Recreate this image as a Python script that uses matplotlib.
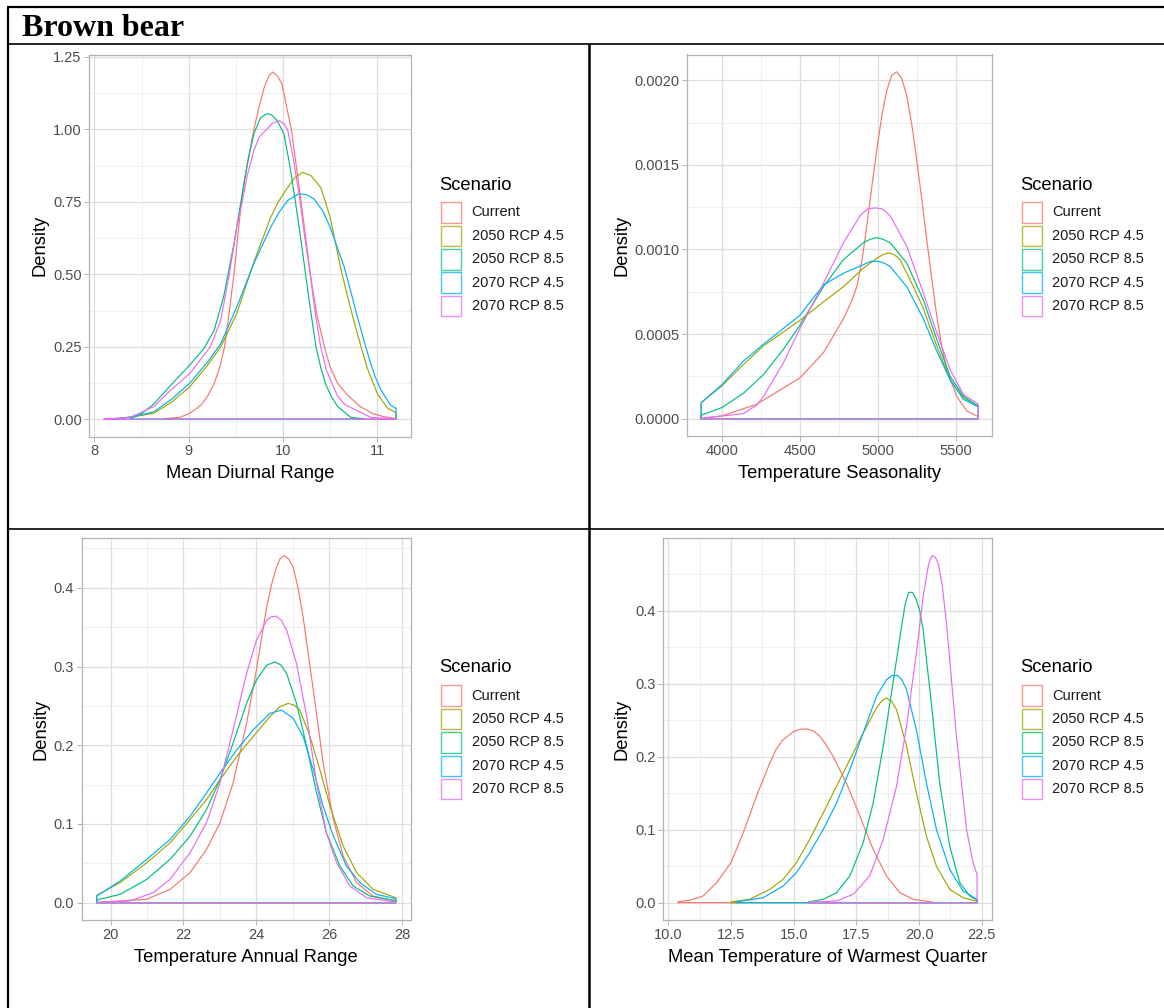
import matplotlib
matplotlib.use("Agg")
import matplotlib.pyplot as plt
from matplotlib.lines import Line2D
from matplotlib.patches import Rectangle
from matplotlib.ticker import MultipleLocator, FormatStrFormatter

W, H = 1164, 1008
DPI = 100

scenarios = ["Current", "2050 RCP 4.5", "2050 RCP 8.5", "2070 RCP 4.5", "2070 RCP 8.5"]
colors = ["#F8766D", "#A3A500", "#00BF7D", "#00B0F6", "#E76BF3"]

# ---- Mean Diurnal Range (x, density) ----
mdr_current = [(8.74, 0.002), (8.91, 0.007), (9.01, 0.021), (9.06, 0.032), (9.13, 0.049), (9.20, 0.08),
               (9.27, 0.124), (9.33, 0.18), (9.38, 0.25), (9.43, 0.37), (9.48, 0.502), (9.52, 0.63),
               (9.56, 0.755), (9.62, 0.88), (9.69, 0.998), (9.74, 1.07), (9.80, 1.144), (9.85, 1.185),
               (9.89, 1.198), (9.94, 1.185), (9.99, 1.156), (10.04, 1.075), (10.09, 0.998),
               (10.19, 0.755), (10.24, 0.63), (10.29, 0.499), (10.36, 0.36), (10.44, 0.25),
               (10.50, 0.18), (10.58, 0.124), (10.68, 0.085), (10.82, 0.044), (10.95, 0.02),
               (11.07, 0.009), (11.2, 0.003)]
mdr_2050_45 = [(8.2, 0.001), (8.4, 0.008), (8.63, 0.021), (8.82, 0.06), (9.01, 0.112), (9.2, 0.187),
               (9.34, 0.25), (9.51, 0.365), (9.69, 0.542), (9.87, 0.697), (9.95, 0.75), (10.05, 0.8),
               (10.13, 0.835), (10.21, 0.852), (10.3, 0.84), (10.4, 0.8), (10.45, 0.75), (10.5, 0.697),
               (10.61, 0.525), (10.68, 0.43), (10.75, 0.342), (10.82, 0.26), (10.89, 0.181),
               (10.95, 0.13), (11.0, 0.089), (11.11, 0.038), (11.2, 0.023)]
mdr_2050_85 = [(8.38, 0.002), (8.5, 0.02), (8.63, 0.053), (8.81, 0.118), (9.01, 0.187), (9.16, 0.244),
               (9.27, 0.307), (9.37, 0.422), (9.48, 0.606), (9.59, 0.823), (9.64, 0.91), (9.69, 0.984),
               (9.76, 1.04), (9.83, 1.055), (9.88, 1.05), (9.94, 1.03), (10.01, 0.984), (10.07, 0.88),
               (10.13, 0.755), (10.19, 0.62), (10.24, 0.499), (10.30, 0.36), (10.35, 0.25),
               (10.40, 0.18), (10.45, 0.124), (10.51, 0.08), (10.58, 0.044), (10.72, 0.007),
               (10.86, 0.001)]
mdr_2070_45 = [(8.2, 0.001), (8.4, 0.009), (8.63, 0.026), (8.82, 0.07), (9.01, 0.124), (9.2, 0.198),
               (9.34, 0.261), (9.51, 0.388), (9.69, 0.537), (9.87, 0.663), (9.96, 0.715), (10.05, 0.755),
               (10.17, 0.778), (10.25, 0.775), (10.33, 0.76), (10.42, 0.72), (10.5, 0.663),
               (10.65, 0.525), (10.72, 0.44), (10.79, 0.353), (10.86, 0.27), (10.93, 0.193),
               (10.98, 0.145), (11.04, 0.101), (11.14, 0.049), (11.2, 0.038)]
mdr_2070_85 = [(8.1, 0.001), (8.38, 0.007), (8.63, 0.044), (8.81, 0.101), (9.01, 0.158), (9.23, 0.25),
               (9.34, 0.342), (9.43, 0.499), (9.51, 0.663), (9.57, 0.755), (9.62, 0.84), (9.69, 0.927),
               (9.75, 0.975), (9.82, 0.998), (9.89, 1.022), (9.96, 1.03), (10.01, 1.02), (10.05, 0.998),
               (10.11, 0.9), (10.18, 0.755), (10.23, 0.63), (10.29, 0.499), (10.34, 0.37), (10.4, 0.25),
               (10.46, 0.17), (10.52, 0.124), (10.58, 0.08), (10.66, 0.05), (10.93, 0.007),
               (11.2, 0.001)]

# ---- Temperature Seasonality ----
ts_current = [(3868, 0.000002), (4000, 0.000016), (4224, 0.000085), (4500, 0.00024), (4652, 0.00039),
              (4780, 0.00059), (4830, 0.00069), (4866, 0.00078), (4900, 0.00094), (4930, 0.00114),
              (4962, 0.00137), (4994, 0.00159), (5026, 0.00179), (5058, 0.00194), (5090, 0.00203),
              (5122, 0.00205), (5154, 0.00201), (5186, 0.00191), (5218, 0.00174), (5250, 0.00153),
              (5282, 0.0013), (5314, 0.00106), (5346, 0.00083), (5378, 0.00061), (5410, 0.00043),
              (5442, 0.00029), (5507, 0.00013), (5571, 0.000045), (5645, 0.000012)]
ts_2050_45 = [(3868, 0.0000945), (4000, 0.000193), (4139, 0.00032), (4267, 0.00043), (4500, 0.00058),
              (4652, 0.00069), (4780, 0.00078), (4908, 0.00089), (4998, 0.00095), (5035, 0.00097),
              (5068, 0.00098), (5105, 0.00097), (5143, 0.00094), (5229, 0.00078), (5293, 0.00065),
              (5378, 0.00043), (5464, 0.00023), (5549, 0.000124), (5645, 0.000075)]
ts_2050_85 = [(3868, 0.00002), (4000, 0.000065), (4139, 0.00015), (4267, 0.00026), (4395, 0.00041),
              (4500, 0.00055), (4652, 0.00078), (4780, 0.00094), (4908, 0.00104), (4950, 0.00106),
              (4994, 0.00107), (5035, 0.00106), (5079, 0.00104), (5186, 0.00092), (5293, 0.0007),
              (5378, 0.00047), (5464, 0.00025), (5549, 0.000134), (5645, 0.000071)]
ts_2070_45 = [(3868, 0.0000945), (4000, 0.0002), (4139, 0.00034), (4267, 0.00044), (4500, 0.00061),
              (4652, 0.00079), (4780, 0.00086), (4908, 0.00091), (4955, 0.00093), (4998, 0.00093),
              (5040, 0.00092), (5079, 0.0009), (5186, 0.00078), (5293, 0.00059), (5378, 0.0004),
              (5464, 0.00023), (5549, 0.000114), (5645, 0.00007)]
ts_2070_85 = [(3868, 0.000002), (4139, 0.00003), (4224, 0.00008), (4267, 0.00013), (4395, 0.00033),
              (4500, 0.00053), (4652, 0.0008), (4780, 0.00104), (4887, 0.0012), (4935, 0.00124),
              (4983, 0.001246), (5030, 0.00124), (5079, 0.0012), (5186, 0.00102), (5293, 0.00074),
              (5378, 0.00051), (5464, 0.00029), (5549, 0.000144), (5645, 0.000085)]

# ---- Temperature Annual Range ----
tar_current = [(19.62, 0.0004), (20.99, 0.0042), (21.63, 0.0169), (22.18, 0.038), (22.63, 0.0675),
               (23.0, 0.1013), (23.36, 0.1519), (23.73, 0.2278), (24.0, 0.2954), (24.28, 0.3755),
               (24.42, 0.405), (24.55, 0.4262), (24.65, 0.437), (24.76, 0.4409), (24.88, 0.437),
               (25.01, 0.4262), (25.15, 0.398), (25.28, 0.3629), (25.56, 0.27), (25.83, 0.1772),
               (26.11, 0.1055), (26.38, 0.0591), (26.75, 0.0253), (27.2, 0.0084), (27.82, 0.0021)]
tar_2050_45 = [(19.62, 0.0093), (20.26, 0.0253), (20.99, 0.0506), (21.63, 0.0759), (22.18, 0.1055),
               (22.63, 0.1308), (23.0, 0.1561), (23.46, 0.1857), (23.91, 0.211), (24.37, 0.2363),
               (24.64, 0.2489), (24.87, 0.2532), (25.03, 0.251), (25.19, 0.2447), (25.47, 0.211),
               (25.74, 0.1688), (26.02, 0.1224), (26.38, 0.0717), (26.75, 0.038), (27.2, 0.0169),
               (27.82, 0.0063)]
tar_2050_85 = [(19.62, 0.0034), (20.26, 0.0105), (20.99, 0.0295), (21.63, 0.0549), (22.18, 0.0844),
               (22.63, 0.1181), (23.0, 0.1561), (23.36, 0.2025), (23.73, 0.2532), (24.0, 0.2827),
               (24.28, 0.3017), (24.51, 0.3059), (24.67, 0.302), (24.83, 0.2911), (25.1, 0.2532),
               (25.38, 0.1983), (25.65, 0.1392), (25.92, 0.0886), (26.29, 0.0464), (26.65, 0.0211),
               (27.11, 0.0084), (27.82, 0.0025)]
tar_2070_45 = [(19.62, 0.0084), (20.26, 0.0274), (20.99, 0.0549), (21.63, 0.0802), (22.18, 0.1097),
               (22.63, 0.1392), (23.0, 0.1646), (23.46, 0.1941), (23.91, 0.2194), (24.37, 0.2405),
               (24.69, 0.2447), (25.01, 0.2342), (25.28, 0.211), (25.56, 0.1688), (25.83, 0.1224),
               (26.11, 0.0844), (26.47, 0.0464), (26.84, 0.0253), (27.29, 0.0105), (27.82, 0.0051)]
tar_2070_85 = [(19.62, 0.0004), (20.53, 0.0021), (21.17, 0.0127), (21.63, 0.0295), (22.18, 0.0633),
               (22.63, 0.1013), (23.0, 0.1519), (23.36, 0.2194), (23.73, 0.2911), (24.0, 0.3333),
               (24.28, 0.3586), (24.4, 0.363), (24.53, 0.3641), (24.68, 0.359), (24.83, 0.346),
               (25.1, 0.3038), (25.38, 0.2363), (25.65, 0.1519), (25.92, 0.0886), (26.2, 0.0506),
               (26.56, 0.0211), (27.02, 0.0063), (27.82, 0.0008)]

# ---- Mean Temperature of Warmest Quarter ----
mtwq_current = [(10.4, 0.0014), (10.86, 0.0032), (11.39, 0.0091), (11.93, 0.0273), (12.5, 0.0547),
                (12.99, 0.0957), (13.52, 0.1459), (14.05, 0.1914), (14.3, 0.21), (14.58, 0.2233),
                (15.01, 0.2347), (15.27, 0.2375), (15.54, 0.2379), (15.8, 0.235), (16.04, 0.2279),
                (16.3, 0.216), (16.57, 0.2005), (17.1, 0.1641), (17.64, 0.1185), (18.17, 0.0729),
                (18.7, 0.0365), (19.23, 0.0137), (19.76, 0.0046), (20.52, 0.0009)]
mtwq_2050_45 = [(12.5, 0.0009), (13.25, 0.0046), (14.05, 0.0182), (14.58, 0.0319), (15.11, 0.0547),
                (15.64, 0.0866), (16.18, 0.1231), (16.71, 0.1595), (17.24, 0.196), (17.77, 0.2324),
                (18.3, 0.2666), (18.5, 0.276), (18.7, 0.2803), (18.9, 0.276), (19.1, 0.2644),
                (19.5, 0.2142), (19.89, 0.1504), (20.29, 0.0912), (20.69, 0.0501), (21.22, 0.0182),
                (21.75, 0.0068), (22.31, 0.0018)]
mtwq_2050_85 = [(15.58, 0.0009), (16.18, 0.0046), (16.71, 0.0137), (17.24, 0.0365), (17.77, 0.082),
                (18.17, 0.1367), (18.57, 0.2142), (18.96, 0.3008), (19.3, 0.3783), (19.45, 0.41),
                (19.59, 0.4252), (19.74, 0.425), (19.89, 0.4148), (20.03, 0.399), (20.16, 0.3737),
                (20.43, 0.2917), (20.82, 0.1641), (21.22, 0.0775), (21.62, 0.0273), (22.02, 0.0091),
                (22.31, 0.0036)]
mtwq_2070_45 = [(12.72, 0.0009), (13.79, 0.0068), (14.58, 0.0228), (15.11, 0.041), (15.64, 0.0684),
                (16.18, 0.1003), (16.71, 0.1367), (17.24, 0.1823), (17.77, 0.2324), (18.3, 0.2826),
                (18.7, 0.3054), (18.92, 0.311), (19.14, 0.3113), (19.32, 0.305), (19.5, 0.2917),
                (19.89, 0.237), (20.29, 0.1641), (20.69, 0.1003), (21.22, 0.0456), (21.75, 0.016),
                (22.31, 0.0046)]
mtwq_2070_85 = [(15.58, 0.0005), (16.71, 0.0023), (17.37, 0.0114), (18.03, 0.0365), (18.57, 0.0866),
                (19.1, 0.1595), (19.5, 0.2416), (19.89, 0.3418), (20.16, 0.4193), (20.36, 0.4603),
                (20.45, 0.471), (20.53, 0.4754), (20.65, 0.473), (20.76, 0.4649), (20.92, 0.435),
                (21.09, 0.3829), (21.49, 0.2279), (21.89, 0.1003), (22.15, 0.0547), (22.31, 0.0387)]

x_titles = ["Mean Diurnal Range", "Temperature Seasonality",
            "Temperature Annual Range", "Mean Temperature of Warmest Quarter"]
legend_title = "Scenario"
title_text = "Brown bear"

panels = [
    dict(curves=[mdr_current, mdr_2050_45, mdr_2050_85, mdr_2070_45, mdr_2070_85],
         box=(89.3, 54.7, 410.7, 436.7), xmaj=1, ymaj=0.25, xfmt="%d", yfmt="%.2f",
         leg=(439.5, 185.0)),
    dict(curves=[ts_current, ts_2050_45, ts_2050_85, ts_2070_45, ts_2070_85],
         box=(687.3, 54.5, 992.2, 436.0), xmaj=500, ymaj=0.0005, xfmt="%d", yfmt="%.4f",
         leg=(1020.5, 185.0)),
    dict(curves=[tar_current, tar_2050_45, tar_2050_85, tar_2070_45, tar_2070_85],
         box=(81.7, 538.3, 410.7, 920.0), xmaj=2, ymaj=0.1, xfmt="%d", yfmt="%.1f",
         leg=(439.5, 668.0)),
    dict(curves=[mtwq_current, mtwq_2050_45, mtwq_2050_85, mtwq_2070_45, mtwq_2070_85],
         box=(663.3, 538.3, 992.0, 920.0), xmaj=2.5, ymaj=0.1, xfmt="%.1f", yfmt="%.1f",
         leg=(1020.5, 668.0)),
]

plt.rcParams["font.family"] = ["Liberation Sans", "DejaVu Sans"]
fig = plt.figure(figsize=(W / DPI, H / DPI), dpi=DPI)
fig.patch.set_facecolor("white")

GRID_MAJ = "#DEDEDE"
GRID_MIN = "#EBEBEB"
BORDER = "#B3B3B3"


def fx(px):
    return px / W


def fy(py):
    return 1 - py / H


for i, p in enumerate(panels):
    l, t, r, b = p["box"]
    ax = fig.add_axes([fx(l), fy(b), (r - l) / W, (b - t) / H])
    for pts, c in zip(p["curves"], colors):
        xs = [pt[0] for pt in pts]
        ys = [pt[1] for pt in pts]
        px = [xs[0]] + xs + [xs[-1], xs[0]]
        py = [0.0] + ys + [0.0, 0.0]
        ax.plot(px, py, color=c, lw=0.85, solid_joinstyle="round")
    ax.margins(x=0.05, y=0.05)
    ax.xaxis.set_major_locator(MultipleLocator(p["xmaj"]))
    ax.xaxis.set_minor_locator(MultipleLocator(p["xmaj"] / 2))
    ax.yaxis.set_major_locator(MultipleLocator(p["ymaj"]))
    ax.yaxis.set_minor_locator(MultipleLocator(p["ymaj"] / 2))
    ax.xaxis.set_major_formatter(FormatStrFormatter(p["xfmt"]))
    ax.yaxis.set_major_formatter(FormatStrFormatter(p["yfmt"]))
    ax.grid(which="major", color=GRID_MAJ, lw=0.9)
    ax.grid(which="minor", color=GRID_MIN, lw=0.55)
    ax.set_axisbelow(True)
    for s in ax.spines.values():
        s.set_color(BORDER)
        s.set_linewidth(0.9)
    ax.tick_params(which="major", length=3.3, width=0.7, color=BORDER,
                   labelsize=10.5, labelcolor="#4D4D4D", pad=2.2)
    ax.tick_params(which="minor", length=0)
    ax.set_xlabel(x_titles[i], fontsize=13.2, color="black", labelpad=5)
    ax.set_ylabel("Density", fontsize=13.2, color="black", labelpad=3)

    # legend (ggplot-style outlined keys)
    lx, ly = p["leg"]
    fig.text(fx(lx), fy(ly), legend_title, fontsize=13.2, ha="left", va="center")
    key = 20.4
    for k, (lab, c) in enumerate(zip(scenarios, colors)):
        cy = ly + 27.5 + k * 23.4
        fig.add_artist(Rectangle((fx(lx + 1), fy(cy + key / 2)), key / W, key / H,
                                 transform=fig.transFigure, facecolor="white",
                                 edgecolor=c, lw=1.0, alpha=0.75))
        fig.text(fx(lx + 32), fy(cy), lab, fontsize=10.5, ha="left", va="center",
                 color="#1A1A1A")

# title
fig.text(fx(22), fy(36.5), title_text, fontsize=23, fontweight="bold",
         family=["Liberation Serif", "DejaVu Serif"], va="baseline", ha="left")


# table borders (figure pixel coordinates)
def hline(y, x0, x1, lw):
    fig.add_artist(Line2D([fx(x0), fx(x1)], [fy(y), fy(y)], color="black", lw=lw,
                          transform=fig.transFigure, solid_capstyle="butt"))


def vline(x, y0, y1, lw):
    fig.add_artist(Line2D([fx(x), fx(x)], [fy(y0), fy(y1)], color="black", lw=lw,
                          transform=fig.transFigure, solid_capstyle="butt"))


hline(7.3, 6.5, 1164, 1.6)
vline(7.8, 6.5, 1008, 1.6)
hline(44.2, 6.5, 1164, 1.2)
vline(589.2, 44, 1008, 1.8)
hline(528.7, 6.5, 1164, 1.2)

fig.savefig("out.png", dpi=DPI, facecolor="white")
